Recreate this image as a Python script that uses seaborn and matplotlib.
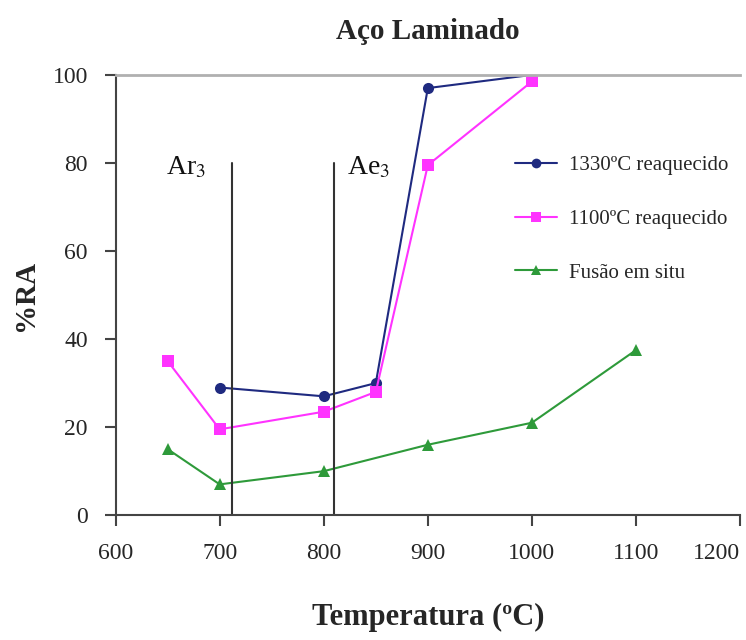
import matplotlib
matplotlib.use("Agg")
import matplotlib.pyplot as plt
import seaborn as sns
import pandas as pd

sns.set_theme(style="white")
plt.rcParams['font.family'] = ['Liberation Serif', 'DejaVu Serif']
plt.rcParams['mathtext.fontset'] = 'stix'

temp_1330 = [700, 800, 850, 900, 1000]
ra_1330 = [29, 27, 30, 97, 100]
temp_1100 = [650, 700, 800, 850, 900, 1000]
ra_1100 = [35, 19.5, 23.5, 28, 79.5, 98.5]
temp_fusao = [650, 700, 800, 900, 1000, 1100]
ra_fusao = [15, 7, 10, 16, 21, 37.5]
series_names = ["1330ºC reaquecido", "1100ºC reaquecido", "Fusão em situ"]
transitions = [712, 810]
transition_labels = ["Ar$_3$", "Ae$_3$"]
xticks = [600, 700, 800, 900, 1000, 1100, 1200]
yticks = [0, 20, 40, 60, 80, 100]

df = pd.concat([
    pd.DataFrame({"T": temp_1330, "RA": ra_1330, "s": series_names[0]}),
    pd.DataFrame({"T": temp_1100, "RA": ra_1100, "s": series_names[1]}),
    pd.DataFrame({"T": temp_fusao, "RA": ra_fusao, "s": series_names[2]}),
])

fig = plt.figure(figsize=(7.46, 6.4), dpi=100)
ax = fig.add_axes([0.155, 0.195, 0.837, 0.688])

palette = {series_names[0]: "#1f2a80", series_names[1]: "#ff33ff", series_names[2]: "#2e9a3a"}
markers = {series_names[0]: "o", series_names[1]: "s", series_names[2]: "^"}
sns.lineplot(data=df, x="T", y="RA", hue="s", style="s", palette=palette,
             markers=markers, dashes=False, markersize=8, linewidth=1.5,
             markeredgewidth=0, ax=ax, legend=True, sort=False)

for xv, lab, dx in zip(transitions, transition_labels, [-64, 12]):
    ax.plot([xv, xv], [0, 80], color="#333333", linewidth=1.5)
    ax.text(xv + dx, 79, lab, fontsize=20, ha="left", va="center", color="#111111")

ax.set_xlim(600, 1200)
ax.set_ylim(0, 100)
ax.set_xticks(xticks)
ax.set_yticks(yticks)
ax.tick_params(axis="both", direction="out", length=8, width=1.5, color="#444444",
               labelsize=17, bottom=True, left=True)
ax.tick_params(axis="x", pad=12)
ax.tick_params(axis="y", pad=12)
xl = ax.get_xticklabels()
xl[-1].set_horizontalalignment("right")

ax.spines['right'].set_visible(False)
ax.spines['top'].set_color("#b0b0b0")
ax.spines['top'].set_linewidth(2)
for sp in ['left', 'bottom']:
    ax.spines[sp].set_color("#444444")
    ax.spines[sp].set_linewidth(1.5)

ax.set_xlabel("Temperatura (ºC)", fontsize=22, fontweight="bold", labelpad=28)
ax.set_ylabel("%RA", fontsize=21, fontweight="bold", labelpad=10)
ax.set_title("Aço Laminado", fontsize=21, fontweight="bold", pad=26)

leg = ax.legend(loc="upper left", bbox_to_anchor=(0.61, 0.86), frameon=False,
                fontsize=15, labelspacing=1.65, handlelength=2.0, handletextpad=0.6)
for h in leg.legend_handles:
    h.set_markersize(7)

fig.savefig("out.png", dpi=100)
